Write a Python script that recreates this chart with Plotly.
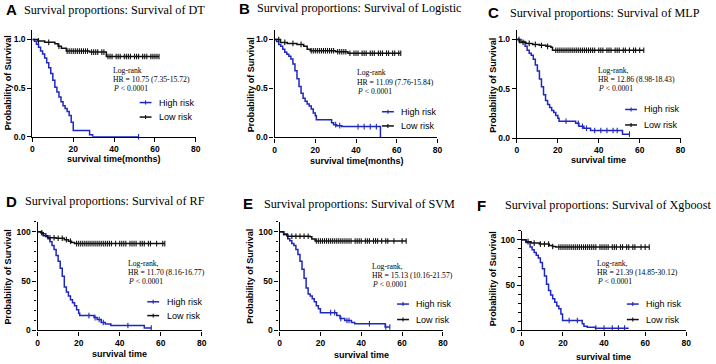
import plotly.graph_objects as go

W, H = 716, 364

# ---------------- data ----------------
# Panel A  (DT)
A_high_t = [0, 1, 2, 3, 4, 5, 6, 7, 8, 9, 10, 11, 12, 13, 14, 15, 16, 17, 18, 19, 20, 28, 29.5, 52]
A_high_s = [1, 0.98, 0.95, 0.92, 0.88, 0.85, 0.81, 0.76, 0.71, 0.65, 0.58, 0.51, 0.46, 0.41, 0.36, 0.32, 0.29, 0.26, 0.22, 0.15, 0.065, 0.02, 0.0, 0.0]
A_high_c = [52]
A_low_t = [0, 2.7, 6, 11, 12.6, 14.2, 16.6, 28, 36.2, 62]
A_low_s = [1, 0.985, 0.97, 0.955, 0.93, 0.91, 0.88, 0.87, 0.825, 0.825]
A_low_c = [3, 8, 13, 17, 18, 19, 20, 21, 22, 23, 24, 25, 26, 27, 29, 30, 31, 32, 34, 35, 37, 38, 39, 41, 42, 43,
           45, 46, 47, 48, 50, 51, 52, 54, 55, 56, 58, 59, 60, 61, 62]

# Panel B  (Logistic)
B_high_t = [0, 1, 2, 3, 4, 5, 6, 7, 8, 9, 10, 11, 12, 13, 14, 15, 16, 17, 18, 19, 20, 20.5, 28, 29, 30.5, 33, 52]
B_high_s = [1, 0.98, 0.95, 0.93, 0.9, 0.87, 0.85, 0.83, 0.8, 0.75, 0.68, 0.6, 0.52, 0.45, 0.4, 0.37, 0.34, 0.32,
            0.29, 0.25, 0.22, 0.18, 0.15, 0.13, 0.12, 0.11, 0.0]
B_high_c = [30, 32, 41, 44, 47, 50]
B_low_t = [0, 2.9, 6.2, 11, 14.3, 16, 17.5, 30, 36, 62]
B_low_s = [1, 0.97, 0.96, 0.95, 0.93, 0.9, 0.885, 0.875, 0.86, 0.86]
B_low_c = [2, 5, 9, 13, 18, 19, 20, 21, 22, 23, 24, 25, 26, 27, 28, 29, 31, 32, 33, 34, 35, 37, 39, 40, 41, 43,
           44, 45, 47, 48, 49, 51, 52, 53, 55, 56, 58, 59, 61, 62]

# Panel C  (MLP)
C_high_t = [0, 2, 4, 5, 6, 7, 8, 9, 10, 11, 12, 13, 14, 15, 16, 17, 18, 19, 20, 20.6, 28.7, 30.3, 32.7, 36, 51.6, 55]
C_high_s = [1, 0.98, 0.93, 0.89, 0.86, 0.84, 0.8, 0.74, 0.68, 0.6, 0.52, 0.44, 0.38, 0.34, 0.31, 0.28, 0.26, 0.23,
            0.2, 0.17, 0.15, 0.12, 0.1, 0.077, 0.04, 0.04]
C_high_c = [24, 30, 32, 34, 38, 41, 44, 47, 49, 55]
C_low_t = [0, 1.3, 4.5, 7.7, 11, 14.2, 16.6, 17.4, 62]
C_low_s = [1, 0.97, 0.96, 0.95, 0.94, 0.93, 0.92, 0.89, 0.89]
C_low_c = [1, 3, 6, 9, 12, 15, 19, 20, 21, 22, 23, 24, 25, 26, 27, 28, 29, 30, 31, 32, 33, 34, 35, 36, 37, 38, 40,
           41, 42, 44, 45, 46, 48, 49, 50, 52, 53, 55, 57, 58, 60, 62]

# Panel D  (RF), percent
D_high_t = [0, 2, 4, 5, 6, 7, 8, 9, 10, 11, 12, 13, 14, 15, 16, 17, 18, 19, 20, 20.5, 27.5, 29, 31, 33, 35.7, 52, 55.4]
D_high_s = [100, 98, 95, 93, 90, 86, 82, 76, 70, 63, 55, 44, 39, 35, 31, 28, 25, 21, 17.5, 15, 13, 11, 8, 6.5, 5,
            2.5, 2.5]
D_high_c = [25, 28, 30, 32, 44, 55.4]
D_low_t = [0, 1.5, 2.7, 5, 9, 13, 15, 16.5, 18, 62]
D_low_s = [100, 99, 96, 94, 93.5, 92, 90.5, 89, 88, 88]
D_low_c = [2, 6, 8, 10, 12, 14, 16, 19, 20, 21, 22, 23, 24, 25, 26, 27, 28, 29, 30, 31, 32, 33, 34, 35, 36, 38, 40,
           41, 42, 43, 45, 46, 47, 48, 50, 51, 52, 54, 55, 58, 61, 62]

# Panel E  (SVM), percent
E_high_t = [0, 2, 4, 5, 6, 7, 8, 9, 10, 11, 12, 13, 14, 15, 16, 17, 18, 19, 20, 28, 29.6, 31.9, 35.2, 36.8, 51.7, 54]
E_high_s = [100, 97, 93, 91, 88, 86, 82, 77, 70, 62, 53, 43, 37, 35, 32, 29, 25, 22, 18, 15, 12, 10, 8, 6.7, 3.5,
            3.5]
E_high_c = [25, 27, 30, 33, 34, 44, 52, 54]
E_low_t = [0, 2, 3.7, 15, 15.8, 17.4, 62]
E_low_s = [100, 97.7, 95.5, 95, 92.7, 90.7, 90.7]
E_low_c = [4, 6, 8, 10, 12, 14, 18, 19, 20, 21, 22, 23, 24, 25, 26, 27, 28, 29, 30, 31, 32, 33, 34, 35, 37, 38, 39,
           40, 42, 43, 44, 46, 47, 48, 50, 52, 53, 56, 60, 62]

# Panel F  (Xgboost), percent
F_high_t = [0, 2, 4, 5, 6, 7, 8, 9, 10, 11, 12, 13, 14, 15, 16, 17, 18, 19, 19.8, 29.4, 30.2, 31.8, 35.8, 52]
F_high_s = [100, 97, 92, 89, 86, 83, 80, 75, 68, 60, 51, 44, 39, 35, 31, 27, 24, 18, 11, 7.3, 4.7, 3.6, 2.5, 2.5]
F_high_c = [23, 27, 36, 40, 44, 47, 50]
F_low_t = [0, 2, 4.5, 8.5, 13.3, 14.9, 16.5, 62]
F_low_s = [100, 98, 96.4, 95.3, 93.8, 92.7, 92, 92]
F_low_c = [3, 6, 9, 11, 13, 15, 18, 19, 20, 21, 22, 23, 24, 25, 26, 27, 28, 29, 30, 31, 32, 33, 34, 35, 36, 38, 39,
           40, 41, 42, 44, 45, 46, 48, 49, 51, 52, 54, 55, 58, 60, 62]

letters = ["A", "B", "C", "D", "E", "F"]
titles = ["Survival proportions: Survival of DT", "Survival proportions: Survival of Logistic",
          "Survival proportions: Survival of MLP", "Survival proportions: Survival of RF",
          "Survival proportions: Survival of SVM", "Survival proportions: Survival of Xgboost"]
x_titles = ["survival time(months)", "survival time(months)", "survival time",
            "survival time", "survival time", "survival time"]
y_title = "Probability of Survival"
logrank_head = ["Log-rank", "Log-rank", "Log-rank,", "Log-rank,", "Log-rank,", "Log-rank,"]
hr_text = ["HR = 10.75 (7.35-15.72)", "HR = 11.09 (7.76-15.84)", "HR = 12.86 (8.98-18.43)",
           "HR = 11.70 (8.16-16.77)", "HR = 15.13 (10.16-21.57)", "HR = 21.39 (14.85-30.12)"]
p_text = "<i>P</i> &lt; 0.0001"
legend_names = ["High risk", "Low risk"]
x_ticks = [0, 20, 40, 60, 80]
y_ticks_frac = [0, 0.5, 1.0]
y_ticklabels_frac = ["0.0", "0.5", "1.0"]
y_ticks_pct = [0, 50, 100]

series = [
    (A_high_t, A_high_s, A_high_c, A_low_t, A_low_s, A_low_c),
    (B_high_t, B_high_s, B_high_c, B_low_t, B_low_s, B_low_c),
    (C_high_t, C_high_s, C_high_c, C_low_t, C_low_s, C_low_c),
    (D_high_t, D_high_s, D_high_c, D_low_t, D_low_s, D_low_c),
    (E_high_t, E_high_s, E_high_c, E_low_t, E_low_s, E_low_c),
    (F_high_t, F_high_s, F_high_c, F_low_t, F_low_s, F_low_c),
]

# ---------------- geometry (pixels) ----------------
geom = [
    dict(x0=30.7, x1=195.7, yb=138.7, yt=30.1, ytop=1.1),
    dict(x0=275.3, x1=439.7, yb=139.3, yt=30.1, ytop=1.1),
    dict(x0=520.0, x1=685.3, yb=140.0, yt=30.0, ytop=1.1),
    dict(x0=36.0, x1=201.7, yb=335.0, yt=225.0, ytop=110),
    dict(x0=280.3, x1=445.3, yb=335.0, yt=225.0, ytop=110),
    dict(x0=525.0, x1=691.0, yb=335.0, yt=234.0, ytop=110),
]
letter_pos = [(1.7, 10), (237.5, 8.5), (489, 12.5), (1.7, 204), (241, 206), (477.7, 208)]
title_pos = [(20.7, 10), (255.3, 8.5), (511, 13), (21.7, 204), (263, 207), (506, 208)]
ytitle_pos = [(5.5, 84), (251, 86), (495.7, 86), (6.3, 281), (251, 280), (496, 283)]
xtitle_pos = [(113, 161.7), (358, 163.3), (602.7, 162.7), (119, 359.3), (363, 360), (607.7, 361.7)]
lr_pos = [(110, 71, 9.2), (356.3, 74, 9.3), (600, 71, 9.2), (125, 267.3, 9.3), (371.3, 270.7, 8.8),
          (599.3, 267.3, 9.0)]
leg_pos = [(139, 104, 118.7), (383.7, 113.3, 127.7), (629.3, 111, 126.7), (146.7, 306, 320),
           (399, 308.3, 324), (631, 308.3, 324)]

BLUE = "#1e28c0"
BLACK = "#111111"
SANS = "Liberation Sans, Arial, sans-serif"
SERIF = "Liberation Serif, Times New Roman, serif"


def px(x):
    return x / W


def py(y):
    return 1 - y / H


def step_value(ts, ss, c):
    v = ss[0]
    for t, s in zip(ts, ss):
        if t <= c:
            v = s
    return v


fig = go.Figure()
annotations = []
shapes = []
layout = {}

for i in range(6):
    g = geom[i]
    sfx = "" if i == 0 else str(i + 1)
    xa, ya = "x" + sfx, "y" + sfx
    ht, hs, hc, lt, ls, lc = series[i]
    for (t, s, c, col) in [(ht, hs, hc, BLUE), (lt, ls, lc, BLACK)]:
        fig.add_trace(go.Scatter(x=t, y=s, mode="lines", line=dict(shape="hv", color=col, width=1.5),
                                 xaxis=xa, yaxis=ya, showlegend=False, hoverinfo="skip"))
        fig.add_trace(go.Scatter(x=c, y=[step_value(t, s, ci) for ci in c], mode="markers",
                                 marker=dict(symbol="line-ns", size=4, color=col, line=dict(width=1.1, color=col)),
                                 xaxis=xa, yaxis=ya, showlegend=False, cliponaxis=False, hoverinfo="skip"))

    tickfont = dict(family=SANS, size=8.5, color="black", weight="bold")
    layout["xaxis" + sfx] = dict(domain=[px(g["x0"]), px(g["x1"])], range=[0, 80], tickvals=x_ticks,
                                 showline=True, linecolor="black", linewidth=1.3, ticks="outside", ticklen=4,
                                 tickwidth=1.3, tickcolor="black", tickfont=tickfont, showgrid=False,
                                 zeroline=False, anchor=ya, fixedrange=True)
    yax = dict(domain=[py(g["yb"]), py(g["yt"])], range=[0, g["ytop"]], showline=True, linecolor="black",
               linewidth=1.3, ticks="outside", ticklen=4, tickwidth=1.3, tickcolor="black", tickfont=tickfont,
               showgrid=False, zeroline=False, anchor=xa, fixedrange=True)
    if i < 3:
        yax.update(tickvals=y_ticks_frac, ticktext=y_ticklabels_frac)
    else:
        yax.update(tickvals=y_ticks_pct,
                   minor=dict(dtick=10, tick0=0, ticks="outside", ticklen=2.5, tickwidth=1, tickcolor="black",
                              showgrid=False))
    layout["yaxis" + sfx] = yax

    lx, ly = letter_pos[i]
    annotations.append(dict(text="<b>%s</b>" % letters[i], x=px(lx), y=py(ly), xref="paper", yref="paper",
                            xanchor="left", yanchor="middle", showarrow=False,
                            font=dict(family=SANS, size=15, color="black")))
    tx, ty = title_pos[i]
    annotations.append(dict(text=titles[i], x=px(tx), y=py(ty), xref="paper", yref="paper", xanchor="left",
                            yanchor="middle", showarrow=False, font=dict(family=SERIF, size=12.2, color="black")))
    yx, yy = ytitle_pos[i]
    annotations.append(dict(text="<b>%s</b>" % y_title, x=px(yx), y=py(yy), xref="paper", yref="paper",
                            xanchor="center", yanchor="middle", textangle=-90, showarrow=False,
                            font=dict(family=SANS, size=9, color="black")))
    xx, xy = xtitle_pos[i]
    annotations.append(dict(text="<b>%s</b>" % x_titles[i], x=px(xx), y=py(xy), xref="paper", yref="paper",
                            xanchor="center", yanchor="middle", showarrow=False,
                            font=dict(family=SANS, size=9, color="black")))
    bx, by, dy = lr_pos[i]
    for k, txt in enumerate([logrank_head[i], hr_text[i], p_text]):
        annotations.append(dict(text=txt, x=px(bx), y=py(by + k * dy), xref="paper", yref="paper",
                                xanchor="left", yanchor="middle", showarrow=False,
                                font=dict(family=SERIF, size=7.7, color="black")))
    gx, gy1, gy2 = leg_pos[i]
    for name, yy_, col in [(legend_names[0], gy1, BLUE), (legend_names[1], gy2, BLACK)]:
        shapes.append(dict(type="line", xref="paper", yref="paper", x0=px(gx), x1=px(gx + 12), y0=py(yy_),
                           y1=py(yy_), line=dict(color=col, width=1.5)))
        shapes.append(dict(type="line", xref="paper", yref="paper", x0=px(gx + 6), x1=px(gx + 6),
                           y0=py(yy_ - 2), y1=py(yy_ + 2), line=dict(color=col, width=1.1)))
        annotations.append(dict(text=name, x=px(gx + 17.5), y=py(yy_), xref="paper", yref="paper",
                                xanchor="left", yanchor="middle", showarrow=False,
                                font=dict(family=SANS, size=9, color="black")))

fig.update_layout(width=W, height=H, margin=dict(l=0, r=0, t=0, b=0), plot_bgcolor="white",
                  paper_bgcolor="white", showlegend=False, annotations=annotations, shapes=shapes, **layout)

fig.write_html("out.html", config=dict(displayModeBar=False),
               post_script="document.body.style.margin='0';document.body.style.overflow='hidden';")
